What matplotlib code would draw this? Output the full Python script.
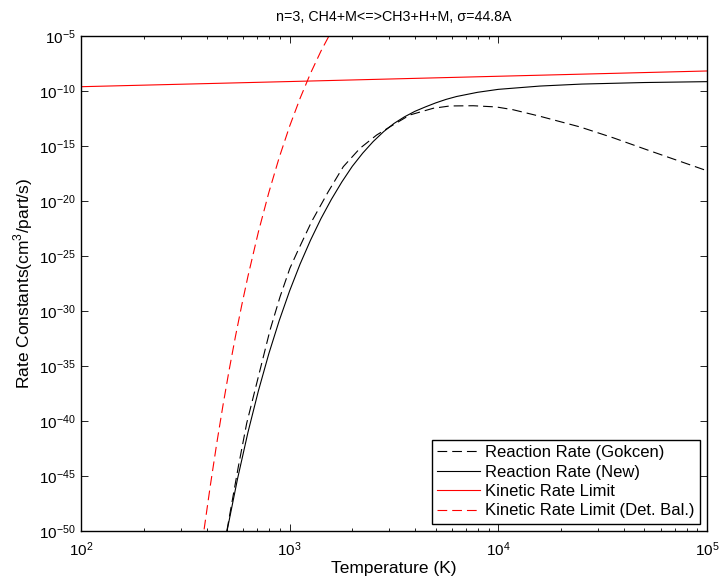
import numpy as np
import matplotlib
matplotlib.use('Agg')
import matplotlib.pyplot as plt
from matplotlib.ticker import LogLocator, FixedLocator, NullLocator

plt.rcParams['font.family'] = ['Liberation Sans', 'DejaVu Sans']
plt.rcParams['lines.scale_dashes'] = False
plt.rcParams['mathtext.fontset'] = 'custom'
plt.rcParams['mathtext.rm'] = 'Liberation Sans'

# values: log10 of temperature (K), log10 of rate
gokcen_logT = [2.699, 2.714, 2.754, 2.794, 2.850, 2.906, 2.954, 3.001, 3.041,
               3.105, 3.185, 3.257, 3.337, 3.417, 3.481, 3.576, 3.688, 3.768,
               3.880, 3.990, 4.070, 4.200, 4.390, 4.550, 4.710, 5.0]
gokcen_logk = [-50.0, -48.39, -44.15, -40.21, -35.97, -31.73, -28.70, -26.12,
               -24.45, -21.88, -19.15, -16.88, -15.21, -14.0, -13.25, -12.18,
               -11.57, -11.36, -11.34, -11.45, -11.70, -12.30, -13.26, -14.25,
               -15.33, -17.25]

new_logT = [2.70, 2.75, 2.80, 2.85, 2.90, 2.95, 3.00, 3.05, 3.10, 3.15, 3.20,
            3.25, 3.30, 3.35, 3.40, 3.45, 3.50, 3.55, 3.60, 3.65, 3.70, 3.75,
            3.80, 3.90, 4.00, 4.20, 4.40, 4.70, 5.0]
new_logk = [-49.98, -45.27, -41.04, -37.27, -33.89, -30.87, -28.16, -25.73,
            -23.56, -21.60, -19.85, -18.27, -16.85, -15.65, -14.60, -13.70,
            -12.95, -12.35, -11.85, -11.45, -11.08, -10.76, -10.50, -10.12,
            -9.85, -9.55, -9.37, -9.23, -9.15]

kin_logT = [2.0, 3.0, 4.0, 5.0]
kin_logk = [-9.61, -9.14, -8.66, -8.18]

detbal_logT = [2.59, 2.62, 2.65, 2.68, 2.71, 2.74, 2.77, 2.80, 2.85, 2.90,
               2.95, 3.00, 3.05, 3.10, 3.15, 3.20]
detbal_logk = [-49.85, -45.84, -42.10, -38.62, -35.36, -32.33, -29.50, -26.85,
               -22.82, -19.24, -16.04, -13.19, -10.66, -8.39, -6.37, -4.58]

fig = plt.figure(figsize=(7.22, 5.82), dpi=100)
ax = fig.add_axes([81 / 722, 1 - 531 / 582, (707 - 81) / 722, (531 - 36) / 582])

dash = (7, 3.6)
curves = [
    (gokcen_logT, gokcen_logk, 'k', (0, dash), 'Reaction Rate (Gokcen)'),
    (new_logT, new_logk, 'k', '-', 'Reaction Rate (New)'),
    (kin_logT, kin_logk, 'r', '-', 'Kinetic Rate Limit'),
    (detbal_logT, detbal_logk, 'r', (0, dash), 'Kinetic Rate Limit (Det. Bal.)'),
]
for lt, lk, c, ls, lab in curves:
    ax.plot(10.0 ** np.array(lt), 10.0 ** np.array(lk), color=c, lw=0.8,
            ls=ls, label=lab)

ax.set_xscale('log')
ax.set_yscale('log')
ax.set_xlim(1e2, 1e5)
ax.set_ylim(1e-50, 1e-5)

ax.xaxis.set_major_locator(FixedLocator([1e2, 1e3, 1e4, 1e5]))
ax.xaxis.set_minor_locator(LogLocator(base=10, subs=np.arange(2, 10)))
ax.xaxis.set_minor_formatter(plt.NullFormatter())
ax.yaxis.set_major_locator(FixedLocator([10.0 ** e for e in range(-50, -4, 5)]))
ax.yaxis.set_minor_locator(NullLocator())

ax.tick_params(which='both', direction='in', top=True, right=True,
               labelsize=11, width=0.6)
ax.tick_params(which='major', length=5)
ax.tick_params(which='minor', length=2.5)
ax.tick_params(axis='x', pad=7)
for s in ax.spines.values():
    s.set_linewidth(1.0)

ax.set_xlabel('Temperature (K)', fontsize=12.5, labelpad=1)
ax.set_ylabel('Rate Constants(cm$^3$/part/s)', fontsize=12.5, labelpad=3)
ax.set_title('n=3, CH4+M<=>CH3+H+M, σ=44.8A', fontsize=10.3, pad=11)

leg = ax.legend(loc='lower right', fontsize=12, frameon=True, fancybox=False,
                edgecolor='k', framealpha=1, handlelength=2.6,
                borderpad=0.3, labelspacing=0.27, handletextpad=0.3,
                borderaxespad=0.45)
leg.get_frame().set_linewidth(1.0)

fig.savefig('out.png', dpi=100)
